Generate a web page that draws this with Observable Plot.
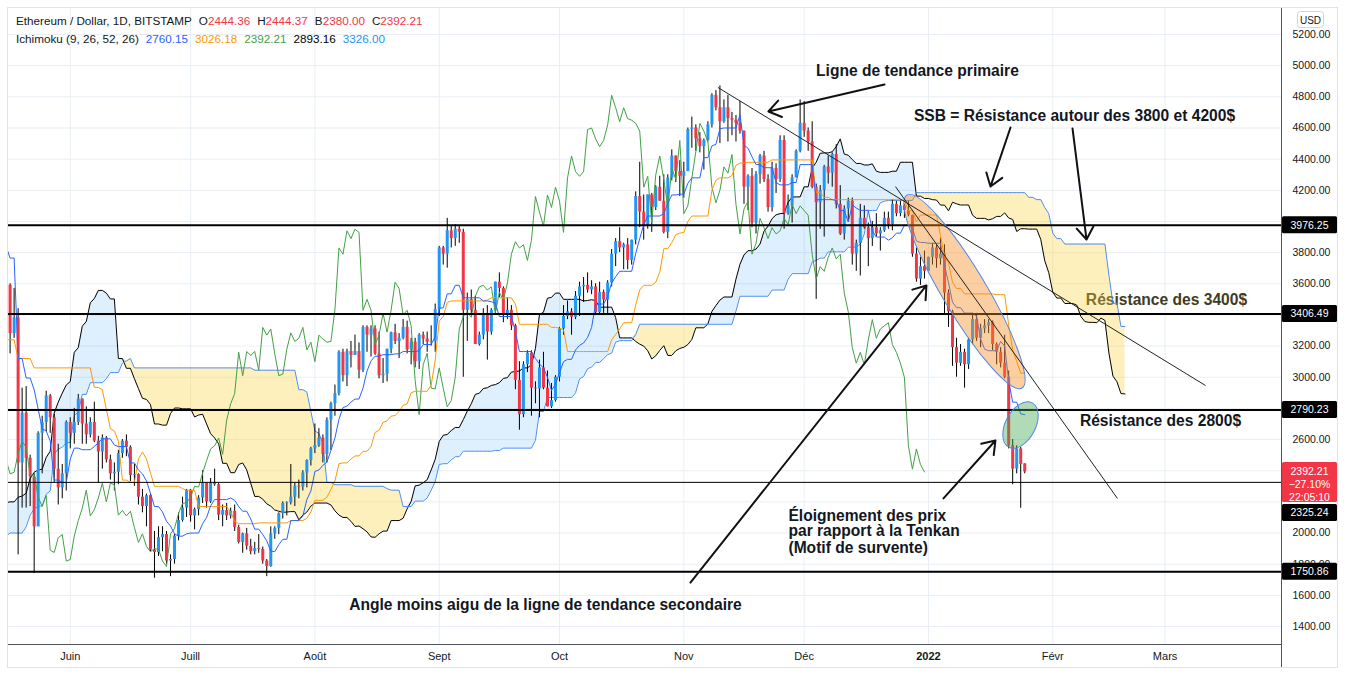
<!DOCTYPE html>
<html lang="fr">
<head>
<meta charset="utf-8">
<script src="https://cdn.jsdelivr.net/npm/d3@7"></script>
<script src="https://cdn.jsdelivr.net/npm/@observablehq/plot@0.6"></script>
<style>
  html,body{margin:0;padding:0;background:#fff;}
  #wrap{position:relative;width:1345px;height:675px;overflow:hidden;background:#fff;}
  #legend{position:absolute;left:16px;top:12px;font-family:"Liberation Sans",Arial,sans-serif;font-size:11.7px;color:#131722;line-height:18px;white-space:nowrap;}
  #legend .g{margin-left:7px}
</style>
</head>
<body>
<div id="wrap"><div id="legend"></div></div>
<script>
// ---------------- DATA ----------------
// Daily candles, BITSTAMP ETH/USD, from 2021-05-17 to 2022-01-25
const firstDay = "2021-05-17";
const open = [
 3590,3280,3380,2450,2770,2480,2360,2040,2640,2710,2880,2740,2410,2290,2380,
 2710,2640,2710,2860,2700,2630,2710,2590,2520,2610,2470,2380,2390,2510,2590,2550,2370,2375,2230,2170,2240,1890,1875,1970,1990,1820,1830,1980,2080,2160,
 2275,2110,2150,2225,2320,2200,2320,2310,2115,2145,2110,2140,2035,1940,1995,1915,1880,1900,1895,1820,1785,1995,2030,2125,2190,2195,2230,2300,2295,2385,2465,
 2540,2560,2610,2505,2725,2830,2895,3160,3010,3165,3140,3165,3045,3320,3270,3310,3150,3010,3020,3180,3285,3230,3250,3320,3175,3225,3100,3270,3245,3225,3230,
 3435,3830,3790,3940,3890,3950,3930,3430,3500,3430,3210,3270,3410,3290,3430,3610,3570,3400,3430,3330,2980,2760,3080,3155,2930,2925,3060,2930,2810,2850,
 3000,3310,3390,3420,3385,3520,3580,3590,3560,3580,3415,3545,3495,3605,3790,3870,3830,3850,3750,3880,4160,4060,3970,4170,4090,4220,4130,3930,4280,4420,4320,
 4290,4320,4590,4600,4530,4480,4520,4620,4810,4730,4640,4730,4660,4650,4630,4580,4220,4290,3990,4300,4420,4270,4090,4340,4270,4520,4050,4100,4280,4450,
 4630,4580,4510,4220,4120,4200,4350,4310,4430,4110,3920,4080,4130,3790,3860,4020,3960,3890,3960,3920,3940,4020,3980,4110,4050,4100,4070,4040,3790,3630,3710,
 3680,3770,3830,3760,3790,3540,3420,3190,3090,3160,3080,3240,3370,3250,3310,3330,3350,3210,3160,3090,3000,2560,2410,2540,2444.36
];
const high = [
 3600,3570,3440,2930,2940,2500,2380,2650,2750,2910,2890,2760,2570,2440,2720,
 2740,2800,2890,2860,2810,2740,2840,2620,2630,2620,2500,2450,2530,2600,2630,2560,2440,2380,2280,2250,2250,2010,2040,2040,2010,1860,1990,2130,2230,2280,
 2280,2160,2240,2400,2320,2350,2410,2320,2180,2190,2160,2180,2050,2000,2030,1960,1940,1990,1910,1830,2040,2040,2130,2200,2200,2440,2320,2340,2400,2470,2550,
 2700,2670,2630,2740,2840,2950,3170,3180,3180,3230,3270,3220,3330,3330,3330,3330,3290,3120,3180,3290,3340,3280,3370,3360,3250,3250,3280,3290,3290,3330,3470,
 3840,3840,4020,3970,3980,3970,3950,3540,3560,3520,3290,3440,3460,3440,3610,3670,3580,3510,3460,3340,3100,3100,3170,3170,2970,3110,3160,3040,2960,3010,
 3320,3460,3490,3440,3550,3610,3640,3670,3620,3600,3610,3560,3620,3820,3890,3960,3860,3890,3880,4190,4380,4170,4170,4180,4230,4290,4300,4300,4460,4420,4390,
 4380,4600,4670,4620,4570,4530,4640,4820,4840,4870,4780,4810,4700,4680,4770,4580,4300,4340,4320,4430,4450,4300,4380,4370,4550,4550,4170,4300,4460,4780,
 4770,4600,4640,4240,4230,4360,4420,4440,4493,4230,4100,4150,4150,3880,4110,4100,3990,4000,4050,3960,4060,4060,4140,4130,4130,4110,4130,4040,3830,3770,3810,
 3770,3860,3850,3893.36,3850,3560,3430,3250,3210,3180,3250,3410,3410,3340,3370,3370,3361.3,3220,3190,3270,3040,2600,2560,2550,2444.37
];
const low = [
 3150,3250,1860,2160,2160,2170,1740,2040,2380,2650,2640,2320,2180,2220,2270,
 2540,2570,2690,2570,2570,2610,2580,2320,2410,2450,2340,2270,2310,2480,2490,2330,2300,2180,2130,2040,1880,1710,1850,1880,1800,1720,1800,1950,2070,2100,
 2070,2020,2110,2190,2160,2190,2300,2080,2040,2080,2090,2010,1930,1870,1890,1860,1860,1870,1800,1720,1780,1960,1990,2090,2110,2180,2170,2220,2270,2290,2430,
 2510,2550,2450,2450,2530,2750,2880,2970,2940,3060,3140,2990,3030,3160,3130,3140,2990,2960,2970,3150,3210,3120,3240,3150,3080,3060,3050,3210,3160,3200,3160,
 3390,3720,3700,3830,3840,3860,3000,3230,3400,3210,3200,3240,3110,3270,3410,3510,3350,3370,3300,2920,2660,2740,3030,2750,2830,2740,2920,2810,2800,2840,
 2970,3270,3370,3270,3370,3390,3480,3540,3530,3400,3400,3410,3400,3580,3710,3800,3690,3690,3720,3850,3960,3880,3950,3930,4070,4130,3920,3890,4260,4250,4160,
 4150,4320,4470,4450,4440,4330,4510,4600,4710,4500,4630,4510,4550,4510,4560,4110,4070,3960,3920,4240,4250,4060,4060,4180,4250,3950,4040,3990,4280,4440,
 4540,4450,4210,3500,3950,3900,4240,4220,4080,3910,3880,4000,3720,3680,3650,3950,3710,3840,3900,3810,3930,3950,3940,4030,4030,4020,4030,3770,3610,3590,3630,
 3680,3720,3700,3720,3400,3320,3070,3000,3070,2930,3050,3210,3230,3190,3280,3280,3170,3080,3060,2990,2540,2310,2380,2159,2380
];
const close = [
 3280,3380,2450,2770,2480,2360,2040,2640,2710,2880,2740,2410,2290,2380,2710,
 2640,2710,2860,2700,2630,2710,2590,2520,2610,2470,2380,2390,2510,2590,2550,2370,2375,2230,2170,2240,1890,1875,1970,1990,1820,1830,1980,2080,2160,2275,
 2110,2150,2225,2320,2200,2320,2310,2115,2145,2110,2140,2035,1940,1995,1915,1880,1900,1895,1820,1785,1995,2030,2125,2190,2195,2230,2300,2295,2385,2465,2540,
 2560,2610,2505,2725,2830,2895,3160,3010,3165,3140,3165,3045,3320,3270,3310,3150,3010,3020,3180,3285,3230,3250,3320,3175,3225,3100,3270,3245,3225,3230,3435,
 3830,3790,3940,3890,3950,3930,3430,3500,3430,3210,3270,3410,3290,3430,3610,3570,3400,3430,3330,2980,2760,3080,3155,2930,2925,3060,2930,2810,2850,3000,
 3310,3390,3420,3385,3520,3580,3590,3560,3580,3415,3545,3495,3605,3790,3870,3830,3850,3750,3880,4160,4060,3970,4170,4090,4220,4130,3930,4280,4420,4320,4290,
 4320,4590,4600,4530,4480,4520,4620,4810,4730,4640,4730,4660,4650,4630,4580,4220,4290,3990,4300,4420,4270,4090,4340,4270,4520,4050,4100,4280,4450,4630,
 4580,4510,4220,4120,4200,4350,4310,4430,4110,3920,4080,4130,3790,3860,4020,3960,3890,3960,3920,3940,4020,3980,4110,4050,4100,4070,4040,3790,3630,3710,3680,
 3770,3830,3760,3790,3540,3420,3190,3090,3160,3080,3240,3370,3250,3310,3330,3350,3210,3160,3090,3000,2560,2410,2540,2440,2392.21
];
// Highs / lows before the visible window (2021-03-01 .. 2021-05-16), needed by the Ichimoku windows
const warmFirstDay = "2021-03-01";
const warmHigh = [
 1570,1600,1650,1620,1550,1700,1730,1840,1870,1880,1830,1840,1930,1930,1880,1800,1830,1830,1850,1850,1820,1810,1720,1730,1640,1700,1730,1730,1830,1860,1950,
 1990,2150,2150,2100,2120,2150,2120,2100,2110,2200,2160,2190,2320,2450,2540,2550,2460,2350,2270,2350,2480,2560,2400,2370,2370,2550,2680,2760,2790,2800,
 2950,2990,3460,3530,3550,3610,3590,3960,4000,4230,4230,4380,4050,4130,4100,3850
];
const warmLow = [
 1410,1460,1480,1500,1440,1520,1640,1710,1780,1780,1740,1730,1760,1850,1790,1730,1740,1770,1780,1800,1770,1660,1650,1630,1550,1600,1680,1680,1680,1800,1830,
 1900,1950,2020,2000,2030,2040,1940,1960,2050,2060,2110,2120,2140,2290,2420,2320,2300,2000,2100,2150,2300,2340,2100,2180,2200,2300,2490,2580,2670,2720,
 2760,2850,2970,3150,3260,3400,3370,3480,3680,3650,3860,3780,3520,3700,3620,3300
];

// Horizontal levels drawn on the chart
const thickLevels = [3976.25, 3406.49, 2790.23, 1750.86];
const thinLevels = [2325.24];
const lastPrice = 2392.21;
const lastPriceLines = ["2392.21", "\u221227.10%", "22:05:10"];

// Axis ticks (4000.00 and 2200.00 are hidden under price badges in the original)
const yTicks = [1400,1600,1800,2000,2200,2400,2600,2800,3000,3200,3400,3600,3800,4000,4200,4400,4600,4800,5000,5200];
const yTickLabelsHidden = [4000, 2200];
const xTickDates = ["2021-06-01","2021-07-01","2021-08-01","2021-09-01","2021-10-01","2021-11-01","2021-12-01","2022-01-01","2022-02-01","2022-03-01"];
const xTickLabels = ["Juin","Juill","Août","Sept","Oct","Nov","Déc","2022","Févr","Mars"];

// Header legend
const headerTitle = "Ethereum / Dollar, 1D, BITSTAMP";
const ohlcKeys = ["O","H","B","C"];
const ohlcValues = ["2444.36","2444.37","2380.00","2392.21"];
const ichiTitle = "Ichimoku (9, 26, 52, 26)";
const ichiValues = ["2760.15","3026.18","2392.21","2893.16","3326.00"];

// Drawings (data coordinates)
const trendStart = [["2021-11-09T12:00", 4860], ["2021-12-23T18:30", 4224]];
const trendEnd   = [["2022-03-11T02:00", 2947], ["2022-02-17T03:00", 2222]];
const arrowFrom = [["2021-12-21T01:00", 4879], ["2022-01-21T11:00", 4603], ["2022-02-05T22:00", 4597], ["2021-11-02T15:30", 1682], ["2022-01-04T18:00", 2222]];
const arrowTo   = [["2021-11-22T02:00", 4706], ["2022-01-16T11:00", 4224], ["2022-02-09T10:00", 3884], ["2021-12-31T12:00", 3589], ["2022-01-17T17:00", 2594]];
const ellipseFrom = [["2021-12-26T18:15", 4166], ["2022-01-21T03:40", 2548]];
const ellipseTo   = [["2022-01-24T10:30", 2928], ["2022-01-27T00:00", 2832]];
const centeredTexts = ["Ligne de tendance primaire", "SSB = Résistance autour des 3800 et 4200$", "Résistance des 2800$", "Angle moins aigu de la ligne de tendance secondaire"];
const centeredAt = [["2021-12-29T06:00", 4969], ["2022-02-06T10:00", 4680], ["2022-02-27T20:40", 2722], ["2021-09-27T12:00", 1541]];
const cloudText = ["Résistance des 3400$"];
const cloudTextAt = [["2022-03-01T08:30", 3499]];
const leftTexts = ["Éloignement des prix", "par rapport à la Tenkan", "(Motif de survente)"];
const leftAt = [["2021-11-27T02:00", 2112], ["2021-11-27T02:00", 2010], ["2021-11-27T02:00", 1907]];

// ---------------- STYLE ----------------
const BLUE = "#2196f3", RED = "#f23645", INK = "#131722", GRID = "#e9eef5";
const FONT = '"Liberation Sans", Arial, sans-serif';
const ellipseHalfWidth = [22, 15];
const ellipseFill = ["rgba(245,140,30,0.42)", "rgba(70,170,80,0.42)"];

// ---------------- BUILD ----------------
const DAY = 864e5;
const utc = s => new Date(s.length === 10 ? s + "T00:00:00Z" : s + ":00Z");
const t0 = +utc(firstDay), w0 = +utc(warmFirstDay);
const candles = close.map((c, i) => ({date: new Date(t0 + i * DAY), open: open[i], high: high[i], low: low[i], close: c}));
const up = candles.filter(d => d.close >= d.open), down = candles.filter(d => d.close < d.open);

const H = warmHigh.concat(high), L = warmLow.concat(low);
const N0 = warmHigh.length;
const dateAt = k => new Date(w0 + k * DAY);
function mid(k, len) {
  if (k - len + 1 < 0) return NaN;
  let h = -Infinity, l = Infinity;
  for (let m = k - len + 1; m <= k; m++) { if (H[m] > h) h = H[m]; if (L[m] < l) l = L[m]; }
  return (h + l) / 2;
}
const baseLines = [];
for (let k = N0 - 1; k < H.length; k++) baseLines.push({date: dateAt(k), tenkan: mid(k, 9), kijun: mid(k, 26)});
const cloud = [];
for (let k = N0 - 27; k < H.length; k++) cloud.push({date: dateAt(k + 25), a: (mid(k, 9) + mid(k, 26)) / 2, b: mid(k, 52)});
const chikou = [];
for (let i = 24; i < close.length; i++) chikou.push({date: new Date(t0 + (i - 25) * DAY), value: close[i]});

const links = trendStart.map((s, i) => ({x1: utc(s[0]), y1: s[1], x2: utc(trendEnd[i][0]), y2: trendEnd[i][1]}));
const arrows = arrowFrom.map((s, i) => ({x1: utc(s[0]), y1: s[1], x2: utc(arrowTo[i][0]), y2: arrowTo[i][1]}));
const ctext = centeredTexts.map((t, i) => ({x: utc(centeredAt[i][0]), y: centeredAt[i][1], t}));
const cltext = cloudText.map((t, i) => ({x: utc(cloudTextAt[i][0]), y: cloudTextAt[i][1], t}));
const ltext = leftTexts.map((t, i) => ({x: utc(leftAt[i][0]), y: leftAt[i][1], t}));
const xTicks = xTickDates.map(utc);
const xLabel = new Map(xTicks.map((d, i) => [+d, xTickLabels[i]]));

const NS = "http://www.w3.org/2000/svg";
function el(name, attrs, parent) {
  const e = document.createElementNS(NS, name);
  for (const k in attrs) e.setAttribute(k, attrs[k]);
  if (parent) parent.appendChild(e);
  return e;
}

function ellipsesMark(index, {x, y}) {
  const g = el("g", {});
  ellipseFrom.forEach((s, i) => {
    const x1 = x(utc(s[0])), y1 = y(s[1]), x2 = x(utc(ellipseTo[i][0])), y2 = y(ellipseTo[i][1]);
    const cx = (x1 + x2) / 2, cy = (y1 + y2) / 2;
    const rx = Math.hypot(x2 - x1, y2 - y1) / 2, ang = Math.atan2(y2 - y1, x2 - x1) * 180 / Math.PI;
    el("ellipse", {cx, cy, rx, ry: ellipseHalfWidth[i], transform: `rotate(${ang} ${cx} ${cy})`,
      fill: ellipseFill[i], stroke: "#4f86ea", "stroke-width": 1}, g);
  });
  return g;
}

function chromeMark(index, {y}, values, dims) {
  const g = el("g", {});
  const right = dims.width - dims.marginRight, bottom = dims.height - dims.marginBottom;
  el("rect", {x: 7.5, y: 7.5, width: 1330, height: 660, fill: "none", stroke: "#e0e3eb"}, g);
  el("line", {x1: right + 0.5, x2: right + 0.5, y1: 8, y2: 667, stroke: "#50535e"}, g);
  el("line", {x1: 8, x2: right, y1: bottom + 0.5, y2: bottom + 0.5, stroke: "#50535e"}, g);
  // USD box
  el("rect", {x: 1297.5, y: 11.5, width: 26, height: 16, rx: 3, fill: "#fff", stroke: "#d1d4dc"}, g);
  const u = el("text", {x: 1310.5, y: 20, "text-anchor": "middle", "dominant-baseline": "central", "font-size": 10, fill: INK, "font-family": FONT}, g);
  u.textContent = "USD";
  const bx = right + 1, bw = 55;
  const py = y(lastPrice);
  const redTop = py - 9.5, redBottom = py + 30.5;
  const badge = (v, yy) => {
    el("rect", {x: bx, y: yy - 8.5, width: bw, height: 17, rx: 1.5, fill: "#000"}, g);
    const t = el("text", {x: bx + bw / 2, y: yy, "text-anchor": "middle", "dominant-baseline": "central", "font-size": 10.5, fill: "#fff", "font-family": FONT}, g);
    t.textContent = v.toFixed(2);
  };
  thickLevels.forEach(v => badge(v, y(v)));
  thinLevels.forEach(v => { let yy = y(v); if (yy - 8.5 < redBottom && yy + 8.5 > redTop) yy = redBottom + 10.5; badge(v, yy); });
  el("rect", {x: bx, y: redTop, width: bw, height: redBottom - redTop, rx: 1.5, fill: RED}, g);
  lastPriceLines.forEach((s, i) => {
    const t = el("text", {x: bx + bw / 2, y: py + i * 13, "text-anchor": "middle", "dominant-baseline": "central", "font-size": 10.5, fill: "#fff", "font-family": FONT}, g);
    t.textContent = s;
  });
  return g;
}

const chart = Plot.plot({
  width: 1345, height: 675,
  marginLeft: 8, marginRight: 64, marginTop: 8, marginBottom: 31,
  x: {type: "utc", domain: [new Date(Date.UTC(2021, 4, 16, 14, 24)), new Date(Date.UTC(2022, 2, 30, 0, 45))], label: null},
  y: {type: "linear", domain: [1284.5, 5367], label: null},
  style: {fontFamily: FONT, fontSize: "10.5px", color: INK, background: "transparent", overflow: "visible"},
  marks: [
    Plot.gridY(yTicks, {stroke: GRID, strokeOpacity: 1}),
    Plot.gridX(xTicks, {stroke: GRID, strokeOpacity: 1}),
    Plot.text(cltext, {x: "x", y: "y", text: "t", fontSize: 15.6, fontWeight: "bold", fill: "#3f3c25", textAnchor: "middle"}),
    Plot.areaY(cloud, {x: "date", y1: "b", y2: d => Math.max(d.a, d.b), fill: BLUE, fillOpacity: 0.15, clip: true}),
    Plot.areaY(cloud, {x: "date", y1: "a", y2: d => Math.max(d.a, d.b), fill: "#f8d340", fillOpacity: 0.35, clip: true}),
    Plot.line(cloud, {x: "date", y: "a", stroke: "#000", strokeWidth: 1, clip: true}),
    Plot.line(cloud, {x: "date", y: "b", stroke: "#4c8df0", strokeWidth: 1, clip: true}),
    Plot.ruleX(candles, {x: "date", y1: "low", y2: "high", stroke: "#000", strokeWidth: 1, clip: true}),
    Plot.ruleX(up, {x: "date", y1: "open", y2: "close", stroke: BLUE, strokeWidth: 3, clip: true}),
    Plot.ruleX(down, {x: "date", y1: "open", y2: "close", stroke: RED, strokeWidth: 3, clip: true}),
    Plot.line(chikou, {x: "date", y: "value", stroke: "#43a047", strokeWidth: 1, clip: true}),
    Plot.line(baseLines, {x: "date", y: "kijun", stroke: "#ff9800", strokeWidth: 1, clip: true}),
    Plot.line(baseLines, {x: "date", y: "tenkan", stroke: "#2962ff", strokeWidth: 1, clip: true}),
    Plot.ruleY(thickLevels, {stroke: "#000", strokeWidth: 2}),
    Plot.ruleY(thinLevels, {stroke: "#000", strokeWidth: 1}),
    ellipsesMark,
    Plot.link(links, {x1: "x1", y1: "y1", x2: "x2", y2: "y2", stroke: "#222", strokeWidth: 1}),
    Plot.arrow(arrows, {x1: "x1", y1: "y1", x2: "x2", y2: "y2", stroke: "#111", strokeWidth: 2, headLength: 11, headAngle: 70}),
    Plot.text(ctext, {x: "x", y: "y", text: "t", fontSize: 15.6, fontWeight: "bold", fill: INK, textAnchor: "middle"}),
    Plot.text(ltext, {x: "x", y: "y", text: "t", fontSize: 15.6, fontWeight: "bold", fill: INK, textAnchor: "start"}),
    Plot.axisY(yTicks.filter(v => !yTickLabelsHidden.includes(v)), {anchor: "right", tickSize: 0, tickPadding: 11, tickFormat: d => d.toFixed(2), fill: INK, fontSize: 10.5, label: null}),
    Plot.axisX(xTicks, {anchor: "bottom", tickSize: 0, tickPadding: 8, tickFormat: d => xLabel.get(+d), fill: INK, fontSize: 11, label: null}),
    chromeMark
  ]
});

d3.select(chart).selectAll("text").filter(function() { return this.textContent === "2022"; }).attr("font-weight", "bold");
const wrap = document.getElementById("wrap");
wrap.insertBefore(chart, wrap.firstChild);
chart.style.position = "absolute"; chart.style.left = "0"; chart.style.top = "0";

// header legend
const lg = document.getElementById("legend");
const line1 = document.createElement("div");
line1.append(headerTitle);
ohlcKeys.forEach((k, i) => {
  const s = document.createElement("span"); s.className = "g"; s.textContent = k;
  const v = document.createElement("span"); v.style.color = RED; v.textContent = ohlcValues[i];
  line1.append(s, v);
});
const line2 = document.createElement("div");
line2.append(ichiTitle);
const ichiColors = ["#2962ff", "#ff9800", "#43a047", "#000000", "#2196f3"];
ichiValues.forEach((v, i) => { const s = document.createElement("span"); s.className = "g"; s.style.color = ichiColors[i]; s.textContent = v; line2.append(s); });
lg.append(line1, line2);
</script>
</body>
</html>
